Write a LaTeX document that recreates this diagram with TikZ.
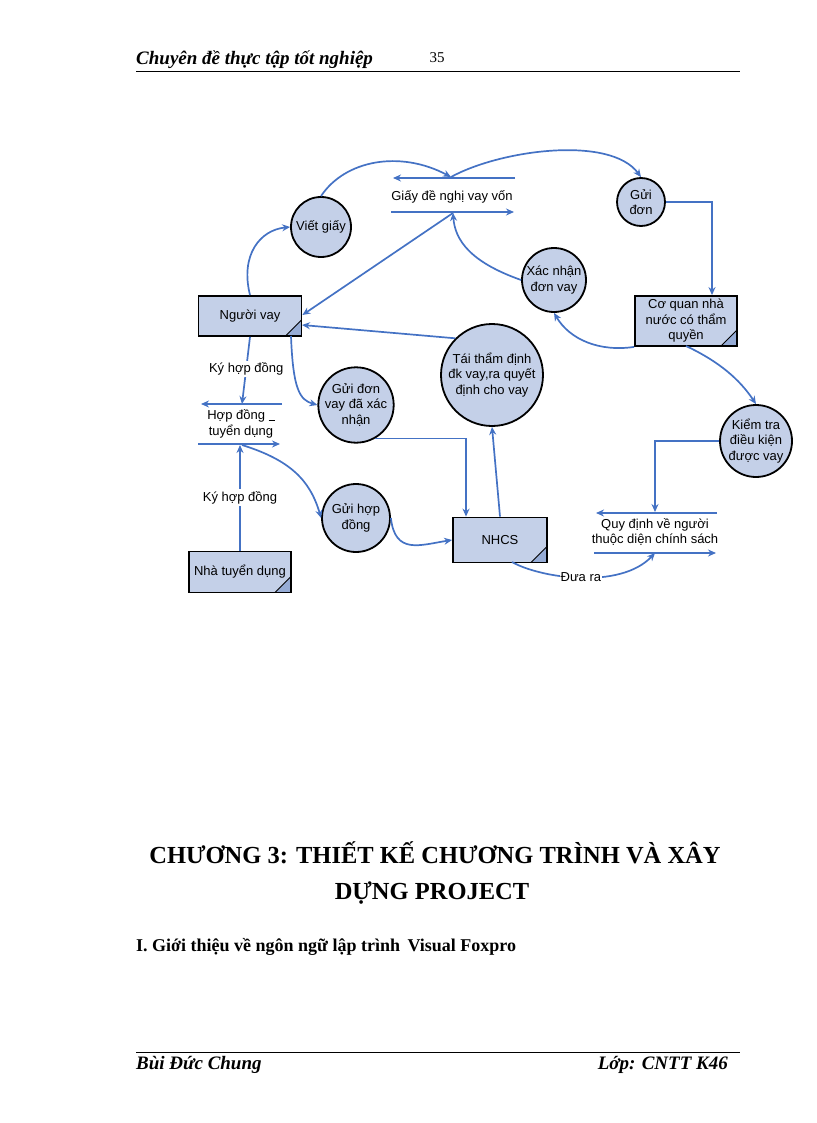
\documentclass[tikz,border=0pt]{standalone}
\usepackage{fontspec}
\setmainfont{Liberation Serif}
\newfontfamily\dsans{Liberation Sans}
\usetikzlibrary{arrows.meta}
\definecolor{lnblue}{RGB}{68,114,196}
\definecolor{shfill}{RGB}{196,208,232}
\definecolor{foldc}{RGB}{150,172,214}
\begin{document}
\begin{tikzpicture}[x=1pt,y=-1pt,
  txt/.style={font=\dsans\fontsize{13}{15.5}\selectfont,align=center,inner sep=0pt},
  proc/.style={circle,draw=black,line width=1.8pt,fill=shfill,txt,minimum size=#1},
  ent/.style={rectangle,draw=black,line width=1.8pt,fill=shfill,txt,
    path picture={\fill[foldc,draw=black,line width=0.8pt] (path picture bounding box.south east) -- ++(0,16pt) -- ++(-16pt,-16pt) -- cycle;}},
  conn/.style={draw=lnblue,line width=1.7pt,-{Stealth[length=8pt,width=7pt]}},
  hdr/.style={font=\bfseries\itshape\fontsize{19}{21}\selectfont,inner sep=0pt,anchor=west}]
\useasboundingbox (0,0) rectangle (816,1123);
% header / footer
\node[hdr] (h1) at (136,60) {Chuyên đề thực tập tốt nghiệp};
\node[font=\fontsize{15}{17}\selectfont,inner sep=0pt] (h2) at (437,58) {35};
\draw[line width=0.8pt] (136,71) -- (740,71);
\draw[line width=0.8pt] (136,1052) -- (740,1052);
\node[hdr] (f1) at (136,1065) {Bùi Đức Chung};
\node[hdr,anchor=east] (f2) at (728,1065) {Lớp: CNTT K46};
\node[font=\bfseries\fontsize{24.5}{28}\selectfont,inner sep=0pt] (t1) at (435,853) {CHƯƠNG 3: THIẾT KẾ CHƯƠNG TRÌNH VÀ XÂY};
\node[font=\bfseries\fontsize{24.5}{28}\selectfont,inner sep=0pt] (t2) at (432,893) {DỰNG PROJECT};
\node[font=\bfseries\fontsize{18}{20}\selectfont,inner sep=0pt,anchor=west] (s1) at (136,947) {I. Giới thiệu về ngôn ngữ lập trình\, Visual Foxpro};

% entities
\node[ent,minimum width=103pt,minimum height=40pt] (nv) at (250,316) {Người vay};
\node[ent,minimum width=102pt,minimum height=41pt] (ntd) at (240,572) {Nhà tuyển dụng};
\node[ent,minimum width=94pt,minimum height=45pt] (nhcs) at (500,540) {NHCS};
\node[ent,minimum width=102pt,minimum height=50pt] (cq) at (686,321) {Cơ quan nhà\\nước có thẩm\\quyền};
% processes
\node[proc=60pt] (vg) at (321,227) {Viết giấy};
\node[proc=48pt] (gd) at (641,202) {Gửi\\đơn};
\node[proc=64pt] (xn) at (554,280) {Xác nhận\\đơn vay};
\node[proc=102pt] (ttd) at (492,375) {Tái thẩm định\\đk vay,ra quyết\\định cho vay};
\node[proc=75pt] (gdv) at (356,405) {Gửi đơn\\vay đã xác\\nhận};
\node[proc=68pt] (ghd) at (356,518) {Gửi hợp\\đồng};
\node[proc=72pt] (kt) at (756,441) {Kiểm tra\\điều kiện\\được vay};

% data stores
\coordinate (g1a) at (515,178); \coordinate (g1b) at (393,178);
\coordinate (g2a) at (391,212); \coordinate (g2b) at (514,212);
\draw[conn] (g1a) -- (g1b); \draw[conn] (g2a) -- (g2b);
\node[txt] (gds) at (452,197) {Giấy đề nghị vay vốn};
\coordinate (h1a) at (282,404); \coordinate (h1b) at (201,404);
\coordinate (h2a) at (198,444); \coordinate (h2b) at (280,444);
\draw[conn] (h1a) -- (h1b); \draw[conn] (h2a) -- (h2b);
\node[txt] (hds) at (241,424) {Hợp đồng \rule[-1pt]{6pt}{0.6pt}\\tuyển dụng};
\coordinate (q1a) at (717,513); \coordinate (q1b) at (596,513);
\coordinate (q2a) at (594,553); \coordinate (q2b) at (716,553);
\draw[conn] (q1a) -- (q1b); \draw[conn] (q2a) -- (q2b);
\node[txt] (qds) at (655,532) {Quy định về người\\thuộc diện chính sách};
\coordinate (gtop) at (451,177);
\coordinate (gbot) at (453,213);
\coordinate (htop) at (242,404);
\coordinate (hbot) at (242,445);
\coordinate (qtop) at (655,512);
\coordinate (qbot) at (655,553);

% connectors
\draw[conn] (nv.north) .. controls (240,255) and (260,230) .. (vg.west);
\draw[conn] (vg.north) .. controls (345,160) and (400,150) .. (gtop);
\draw[conn] (gtop) .. controls (500,150) and (610,135) .. (gd.north);
\draw[conn] (gd.east) -| (cq.north -| 712,0);
\draw[conn] (cq.south west) .. controls (600,352) and (570,340) .. (xn.south);
\draw[conn] (xn.west) .. controls (470,262) and (455,240) .. (gbot);
\draw[conn] (gbot) -- (nv.east |- 0,315);
\draw[conn] (ttd.north west) -- (302,325);
\draw[conn] (nv.south) -- node[txt,fill=white,inner sep=2pt,pos=0.48] (l1) {Ký hợp đồng} (htop);
\draw[conn] (291,336) .. controls (293,390) and (300,400) .. (gdv.west);
\draw[conn] (gdv.-60) -| (nhcs.north -| 466,0);
\draw[conn] (nhcs.north) -- (ttd.south);
\draw[conn] (ntd.north) -- node[txt,fill=white,inner sep=2pt,pos=0.5] (l2) {Ký hợp đồng} (240,445);
\draw[conn] (hbot) .. controls (290,460) and (310,480) .. (ghd.west);
\draw[conn] (ghd.east) .. controls (395,555) and (420,545) .. (nhcs.west);
\draw[conn] (512,562) .. controls (540,578) and (620,590) .. node[txt,fill=white,inner sep=1pt,pos=0.5] (l3) {Đưa ra} (qbot);
\draw[conn] (686,346) .. controls (720,362) and (740,380) .. (kt.north);
\draw[conn] (kt.west) -| (qtop);
\end{tikzpicture}
\end{document}
